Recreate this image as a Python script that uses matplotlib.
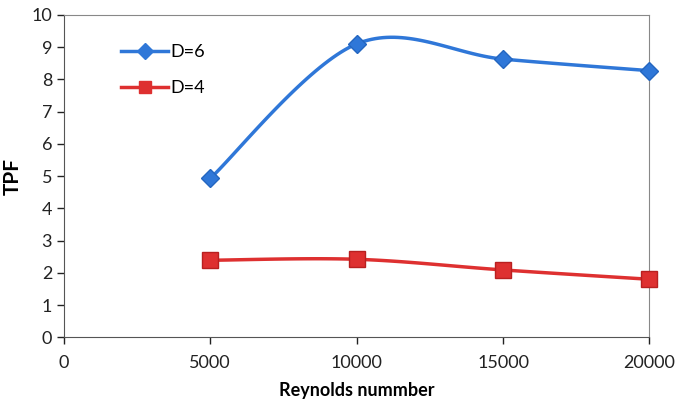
import numpy as np
import matplotlib.pyplot as plt

# data
reynolds = [5000, 10000, 15000, 20000]
tpf_d6 = [4.93, 9.10, 8.63, 8.27]
tpf_d4 = [2.39, 2.42, 2.09, 1.80]
labels = ['D=6', 'D=4']


def smooth(x, y, n=40):
    # Excel-style smoothed line (Catmull-Rom bezier segments)
    x = np.asarray(x, float)
    y = np.asarray(y, float)
    px = np.concatenate([[x[0]], x, [x[-1]]])
    py = np.concatenate([[y[0]], y, [y[-1]]])
    xs, ys = [], []
    t = np.linspace(0, 1, n)
    for i in range(1, len(px) - 2):
        p0 = np.array([px[i], py[i]])
        p3 = np.array([px[i + 1], py[i + 1]])
        c1 = p0 + (np.array([px[i + 1], py[i + 1]]) - np.array([px[i - 1], py[i - 1]])) / 6
        c2 = p3 - (np.array([px[i + 2], py[i + 2]]) - np.array([px[i], py[i]])) / 6
        b = ((1 - t) ** 3)[:, None] * p0 + (3 * (1 - t) ** 2 * t)[:, None] * c1 \
            + (3 * (1 - t) * t ** 2)[:, None] * c2 + (t ** 3)[:, None] * p3
        xs.extend(b[:, 0])
        ys.extend(b[:, 1])
    return xs, ys


plt.rcParams['font.family'] = ['Lato', 'DejaVu Sans']

fig, ax = plt.subplots(figsize=(6.8, 4.03), dpi=100)
fig.subplots_adjust(left=0.094, right=0.955, top=0.963, bottom=0.163)

blue = '#2f77d8'
red = '#de3030'

xs, ys = smooth(reynolds, tpf_d6)
ax.plot(xs, ys, color=blue, lw=2.5, zorder=3, clip_on=False)
ax.plot(reynolds, tpf_d6, ls='none', marker='D', ms=9, color=blue,
        markeredgecolor='#2466c0', zorder=4, clip_on=False)
xs, ys = smooth(reynolds, tpf_d4)
ax.plot(xs, ys, color=red, lw=2.5, zorder=3, clip_on=False)
ax.plot(reynolds, tpf_d4, ls='none', marker='s', ms=11, color=red,
        markeredgecolor='#b82020', zorder=4, clip_on=False)

# legend proxies
h1, = ax.plot([], [], color=blue, lw=2.5, marker='D', ms=8)
h2, = ax.plot([], [], color=red, lw=2.5, marker='s', ms=9)
ax.legend([h1, h2], labels, loc='upper left', bbox_to_anchor=(0.07, 0.96),
          frameon=False, fontsize=13, handlelength=2.6, handletextpad=0.1,
          labelspacing=1.1)

ax.set_xlim(0, 20000)
ax.set_ylim(0, 10)
ax.set_xticks([0, 5000, 10000, 15000, 20000])
ax.set_yticks(range(0, 11))
ax.tick_params(labelsize=13, direction='out', length=5, width=1,
               colors='#222222', top=False, right=False)
ax.tick_params(axis='x', pad=8)
for s in ['left', 'bottom']:
    ax.spines[s].set_color('#555555')
for s in ['top', 'right']:
    ax.spines[s].set_color('#888888')

ax.set_xlabel('Reynolds nummber', fontsize=13, fontweight='bold', labelpad=8)
ax.set_ylabel('TPF', fontsize=15, fontweight='bold', labelpad=6)

plt.savefig('out.png')
